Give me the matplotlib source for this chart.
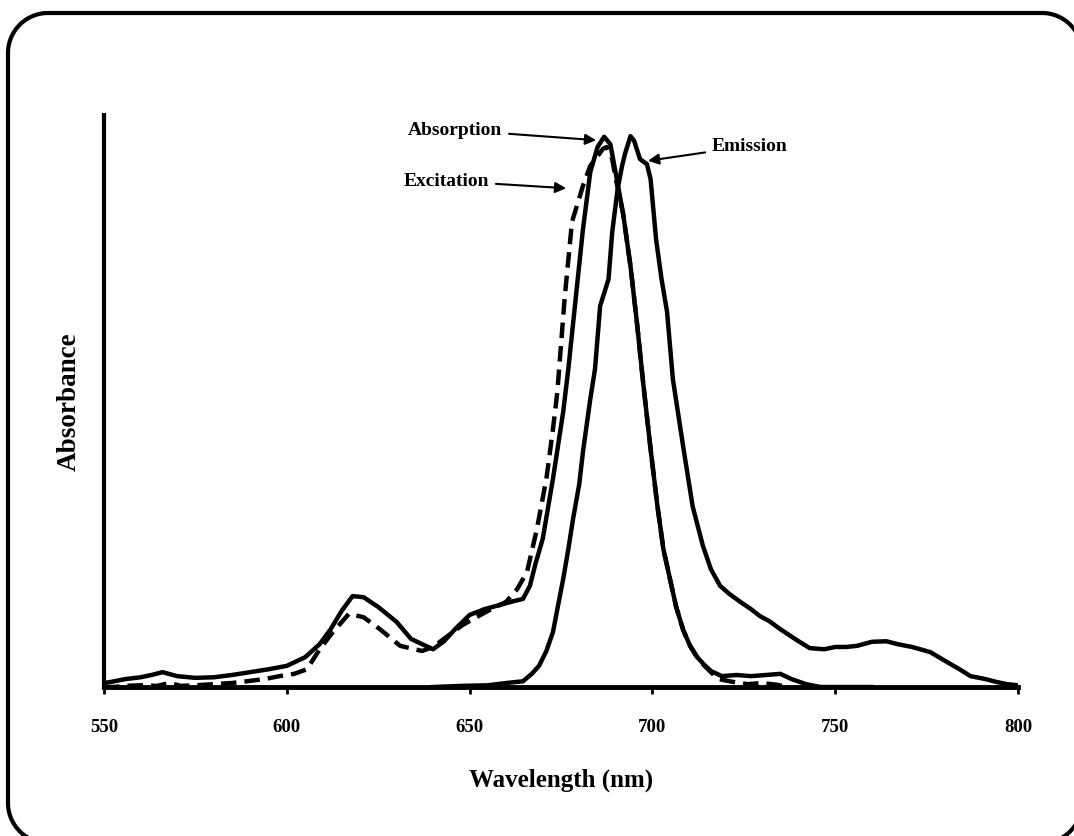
import matplotlib.pyplot as plt
import numpy as np
from matplotlib.lines import Line2D

# absorbance spectra (relative units)
abs_nm = [550, 552, 556, 560, 563, 566, 570, 575, 580, 585, 590, 595, 600, 605, 609,
          612, 615, 618, 621, 625, 630, 634, 637, 640, 643, 646, 650, 654, 658, 662,
          664.6, 666.5, 668, 670, 672.8, 675.6, 677, 679, 681, 683, 685, 686.8, 688.5,
          690, 692, 694, 695.8, 697.5, 699.5, 701.3, 703, 704.8, 706.5, 708.4, 710.3,
          712, 714, 716, 719, 723, 727, 731, 735, 738, 742, 746, 750, 760]
abs_val = [0.007, 0.009, 0.014, 0.017, 0.021, 0.026, 0.019, 0.016, 0.017, 0.021, 0.026,
           0.031, 0.037, 0.052, 0.075, 0.101, 0.133, 0.159, 0.157, 0.140, 0.114, 0.084,
           0.075, 0.066, 0.080, 0.101, 0.126, 0.136, 0.143, 0.150, 0.154, 0.177, 0.215,
           0.259, 0.364, 0.481, 0.556, 0.678, 0.800, 0.900, 0.944, 0.962, 0.949, 0.897,
           0.827, 0.736, 0.635, 0.530, 0.416, 0.320, 0.241, 0.189, 0.140, 0.100, 0.072,
           0.054, 0.040, 0.028, 0.019, 0.021, 0.019, 0.021, 0.023, 0.014, 0.005, 0.0,
           0.0, 0.0]

exc_nm = [550, 552.5, 556, 560, 564.5, 568, 571, 575, 580, 585, 589, 594, 598, 602,
          605.5, 609, 612.6, 617, 621, 625.5, 631, 637, 640, 644, 648, 651, 655, 660,
          663, 665.7, 668.4, 671, 672.8, 674, 676, 678, 681, 683, 686.5, 687.5, 689,
          690, 692, 694, 695.8, 697.5, 699.5, 701.3, 703, 704.8, 706.5, 708.4, 710.3,
          713, 716, 718, 722, 726, 730, 734, 737]
exc_val = [0.0, 0.0, 0.002, 0.003, 0.002, 0.007, 0.002, 0.003, 0.005, 0.007, 0.010,
           0.014, 0.019, 0.023, 0.031, 0.066, 0.096, 0.128, 0.122, 0.101, 0.072, 0.063,
           0.070, 0.089, 0.108, 0.119, 0.133, 0.149, 0.171, 0.201, 0.276, 0.364, 0.451,
           0.516, 0.680, 0.813, 0.876, 0.911, 0.941, 0.944, 0.923, 0.888, 0.827, 0.736,
           0.635, 0.530, 0.416, 0.320, 0.241, 0.189, 0.140, 0.100, 0.072, 0.045, 0.026,
           0.014, 0.009, 0.005, 0.007, 0.004, 0.0]

emi_nm = [640, 648, 655, 660, 664.6, 667, 669, 671, 672.8, 674, 675.6, 677, 678.3, 680,
          681, 683, 684.3, 685.7, 688, 689, 690.5, 691.7, 692.5, 694, 695, 696.6, 698.5,
          699.5, 701, 702.5, 704, 705.6, 708.4, 711, 713.8, 716, 718.5, 721, 724, 727,
          729.4, 732, 735, 739, 743, 747, 750, 753, 756, 760, 764, 767, 771, 776, 780.5,
          784, 787, 791, 794, 797, 800]
emi_val = [0.0, 0.002, 0.003, 0.007, 0.010, 0.023, 0.037, 0.063, 0.096, 0.136, 0.189,
           0.241, 0.294, 0.355, 0.411, 0.503, 0.556, 0.666, 0.713, 0.795, 0.871, 0.911,
           0.932, 0.963, 0.955, 0.923, 0.914, 0.888, 0.783, 0.713, 0.656, 0.538, 0.421,
           0.316, 0.247, 0.206, 0.177, 0.163, 0.149, 0.136, 0.124, 0.115, 0.101, 0.084,
           0.068, 0.066, 0.070, 0.070, 0.072, 0.079, 0.080, 0.075, 0.070, 0.061, 0.044,
           0.031, 0.019, 0.014, 0.009, 0.005, 0.003]

x_ticks = [550, 600, 650, 700, 750, 800]

plt.rcParams['font.family'] = ['Liberation Serif', 'DejaVu Serif']
plt.rcParams['font.weight'] = 'bold'


def rounded_rect(x0, y0, x1, y1, r, n=30):
    # polyline outline (no bezier curves, so clipping at the canvas edge stays clean)
    corners = [(x1 - r, y1 - r, 0), (x0 + r, y1 - r, 90),
               (x0 + r, y0 + r, 180), (x1 - r, y0 + r, 270)]
    xs, ys = [], []
    for cx, cy, start in corners:
        t = np.radians(np.linspace(start, start + 90, n))
        xs.extend(cx + r * np.cos(t))
        ys.extend(cy + r * np.sin(t))
    xs.append(xs[0])
    ys.append(ys[0])
    return xs, ys


fig = plt.figure(figsize=(10.74, 8.37), dpi=100)

# frame in inches; it runs slightly off the right and bottom edges like the original
fx, fy = rounded_rect(0.08, -0.07, 10.82, 8.23, 0.40)
fig.add_artist(Line2D(fx, fy, transform=fig.dpi_scale_trans, color='black', lw=3))

ax = fig.add_axes([0.0968, 0.178, 0.8511, 0.6834])
ax.plot(abs_nm, abs_val, color='black', lw=3.2)
ax.plot(exc_nm, exc_val, color='black', lw=3.2, dashes=(3.5, 1.8))
ax.plot(emi_nm, emi_val, color='black', lw=3.2)

ax.set_xlim(550, 800)
ax.set_ylim(0, 1.0)
ax.set_xticks(x_ticks)
ax.set_yticks([])
ax.tick_params(axis='x', direction='out', length=5, width=2, pad=17, labelsize=13.5)
for lab in ax.get_xticklabels():
    lab.set_fontweight('bold')

ax.spines['top'].set_visible(False)
ax.spines['right'].set_visible(False)
ax.spines['left'].set_linewidth(3)
ax.spines['bottom'].set_linewidth(3.5)

ax.set_xlabel('Wavelength (nm)', fontsize=18, fontweight='bold', labelpad=24)
ax.set_ylabel('Absorbance', fontsize=19.5, fontweight='bold', labelpad=16)

arrow = dict(arrowstyle='-|>', lw=1.5, color='black', mutation_scale=16,
             shrinkA=3, shrinkB=0)
ax.annotate('Absorption', xy=(684.6, 0.956), xytext=(658.9, 0.974),
            ha='right', va='center', fontsize=14, fontweight='bold', arrowprops=arrow)
ax.annotate('Emission', xy=(698.8, 0.92), xytext=(716.3, 0.946),
            ha='left', va='center', fontsize=14, fontweight='bold', arrowprops=arrow)
ax.annotate('Excitation', xy=(676.4, 0.872), xytext=(655.3, 0.885),
            ha='right', va='center', fontsize=14, fontweight='bold', arrowprops=arrow)

fig.savefig('out.png', dpi=100)
